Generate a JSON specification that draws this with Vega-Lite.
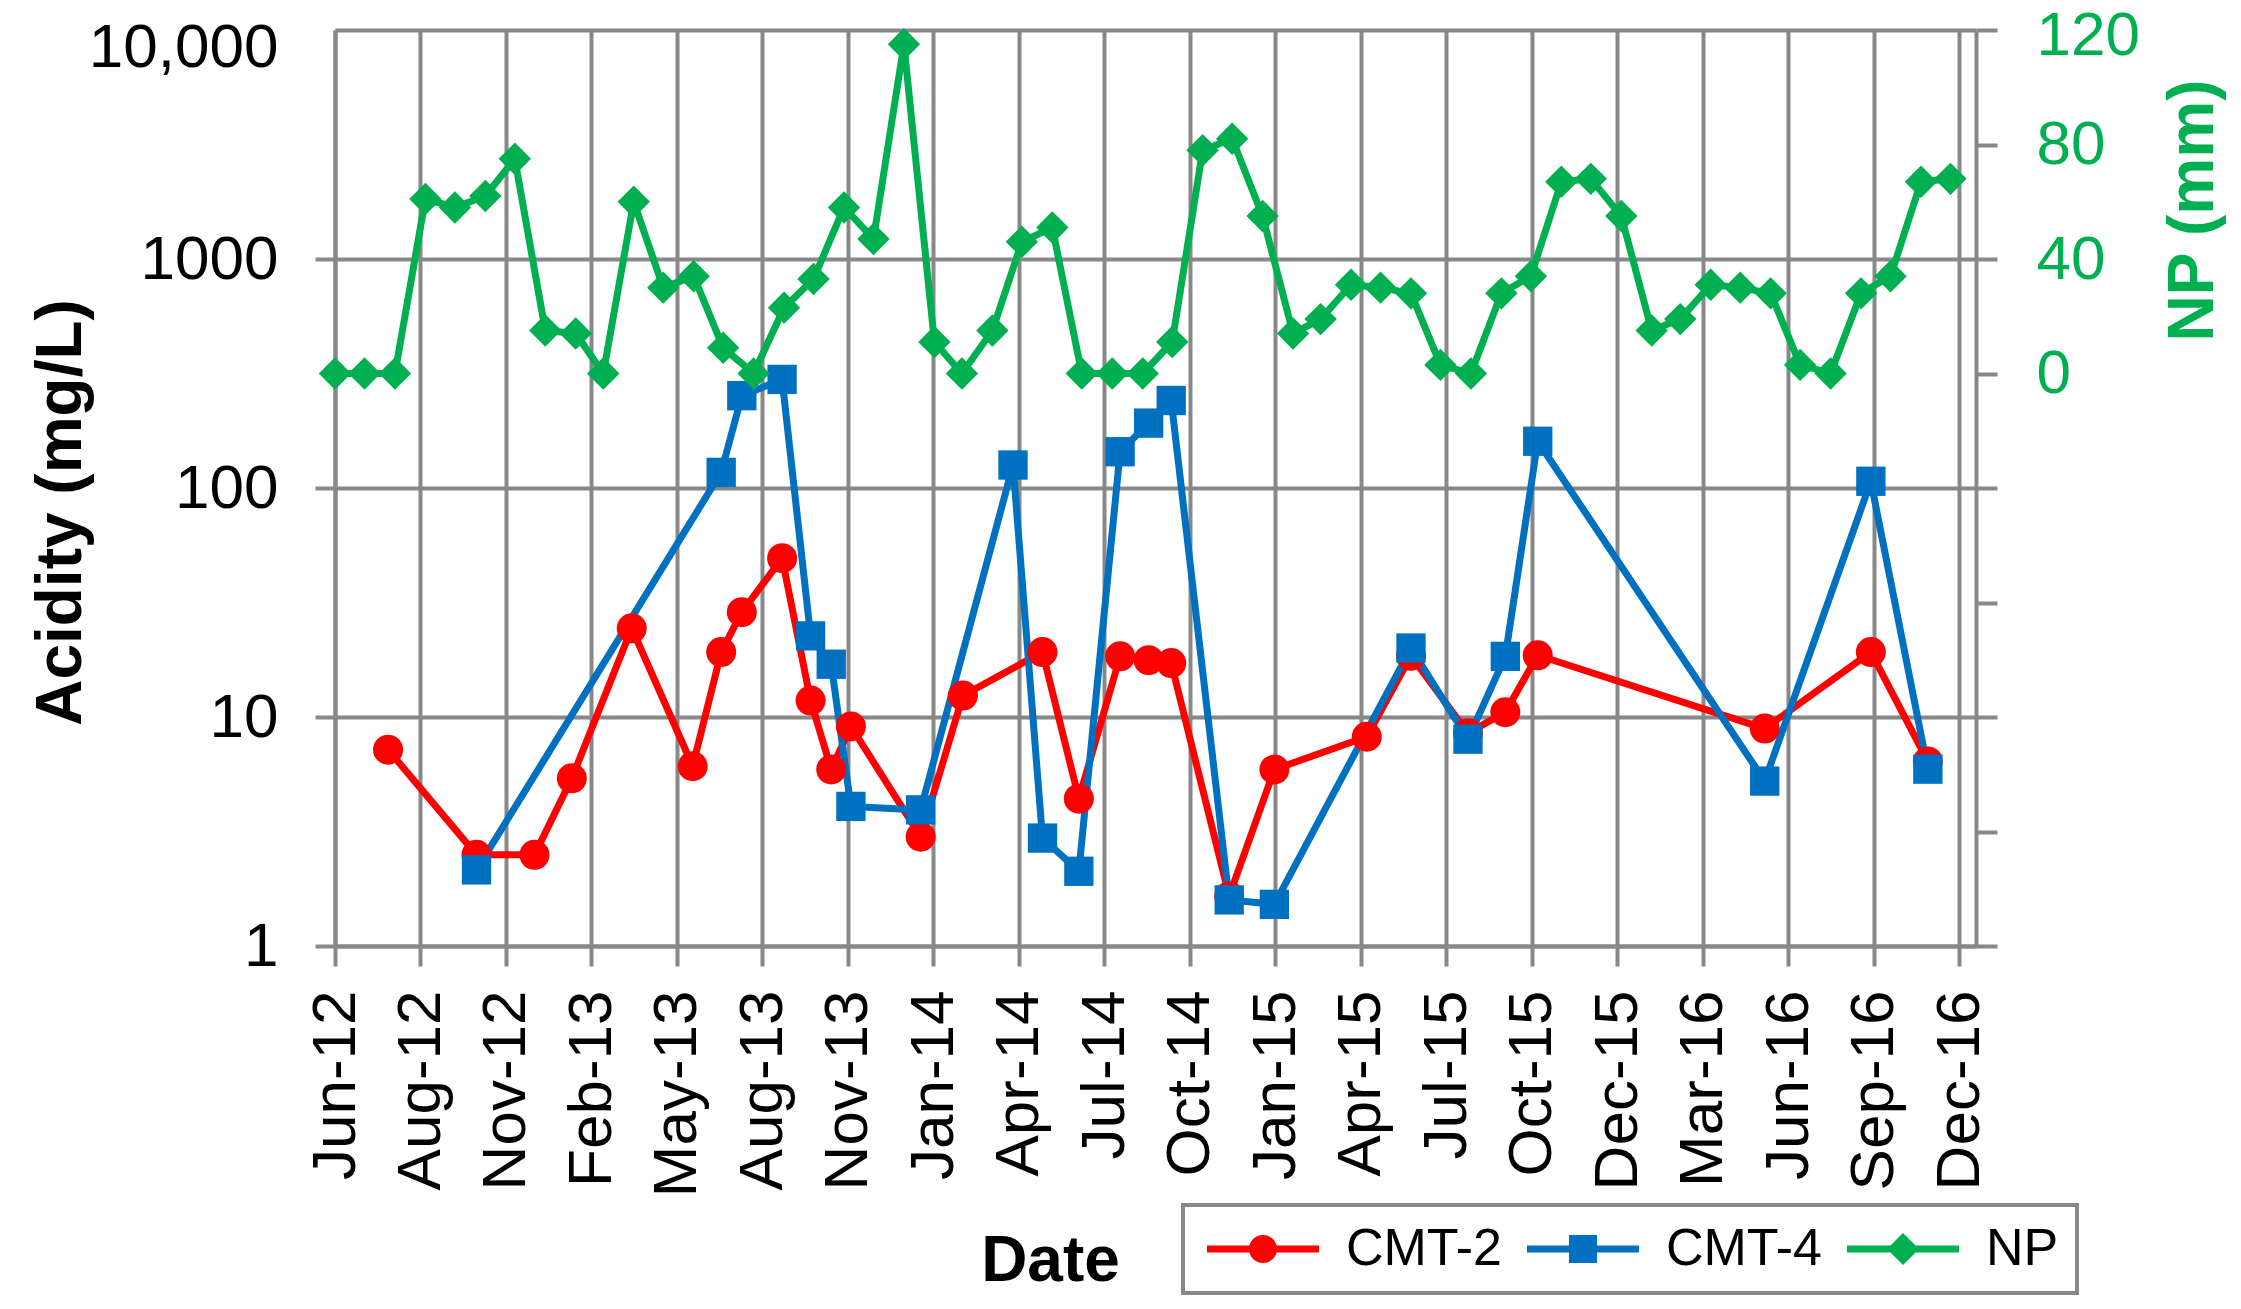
{
  "$schema": "https://vega.github.io/schema/vega-lite/v6.json",
  "width": 1641,
  "height": 916,
  "autosize": {"type": "none"},
  "padding": {"left": 335, "top": 30, "right": 265, "bottom": 363},
  "background": "white",
  "config": {
    "font": "Liberation Sans",
    "view": {"stroke": null},
    "axis": {
      "domainColor": "#888888",
      "domainWidth": 4,
      "gridColor": "#888888",
      "gridWidth": 4,
      "tickColor": "#888888",
      "tickWidth": 4,
      "tickSize": 20,
      "labelFont": "Liberation Sans",
      "labelFontSize": 62,
      "labelColor": "black",
      "labelLimit": 0,
      "labelOverlap": false,
      "titleFont": "Liberation Sans",
      "titleFontSize": 64,
      "titleFontWeight": "bold",
      "titleColor": "black"
    }
  },
  "datasets": {
    "acid": [
      {"date": "2012-07-25", "series": "CMT-2", "value": 7.2},
      {"date": "2012-10-23", "series": "CMT-2", "value": 2.5},
      {"date": "2012-12-21", "series": "CMT-2", "value": 2.5},
      {"date": "2013-01-28", "series": "CMT-2", "value": 5.4},
      {"date": "2013-03-30", "series": "CMT-2", "value": 24.4},
      {"date": "2013-05-31", "series": "CMT-2", "value": 6.1},
      {"date": "2013-06-29", "series": "CMT-2", "value": 19.2},
      {"date": "2013-07-20", "series": "CMT-2", "value": 28.7},
      {"date": "2013-08-30", "series": "CMT-2", "value": 49.4},
      {"date": "2013-09-28", "series": "CMT-2", "value": 11.8},
      {"date": "2013-10-19", "series": "CMT-2", "value": 5.9},
      {"date": "2013-11-08", "series": "CMT-2", "value": 9.1},
      {"date": "2014-01-18", "series": "CMT-2", "value": 3.0},
      {"date": "2014-03-02", "series": "CMT-2", "value": 12.4},
      {"date": "2014-05-22", "series": "CMT-2", "value": 19.2},
      {"date": "2014-06-28", "series": "CMT-2", "value": 4.4},
      {"date": "2014-08-09", "series": "CMT-2", "value": 18.4},
      {"date": "2014-09-07", "series": "CMT-2", "value": 17.7},
      {"date": "2014-09-30", "series": "CMT-2", "value": 17.2},
      {"date": "2014-11-28", "series": "CMT-2", "value": 1.65},
      {"date": "2015-01-13", "series": "CMT-2", "value": 5.9},
      {"date": "2015-04-17", "series": "CMT-2", "value": 8.2},
      {"date": "2015-06-01", "series": "CMT-2", "value": 18.5},
      {"date": "2015-07-29", "series": "CMT-2", "value": 8.5},
      {"date": "2015-09-05", "series": "CMT-2", "value": 10.5},
      {"date": "2015-10-08", "series": "CMT-2", "value": 18.6},
      {"date": "2016-05-26", "series": "CMT-2", "value": 8.9},
      {"date": "2016-09-11", "series": "CMT-2", "value": 19.2},
      {"date": "2016-11-08", "series": "CMT-2", "value": 6.4},
      {"date": "2012-10-23", "series": "CMT-4", "value": 2.15},
      {"date": "2013-06-29", "series": "CMT-4", "value": 117},
      {"date": "2013-07-20", "series": "CMT-4", "value": 253},
      {"date": "2013-08-30", "series": "CMT-4", "value": 298},
      {"date": "2013-09-28", "series": "CMT-4", "value": 22.6},
      {"date": "2013-10-19", "series": "CMT-4", "value": 17},
      {"date": "2013-11-08", "series": "CMT-4", "value": 4.07},
      {"date": "2014-01-18", "series": "CMT-4", "value": 3.93},
      {"date": "2014-04-22", "series": "CMT-4", "value": 126},
      {"date": "2014-05-22", "series": "CMT-4", "value": 2.96},
      {"date": "2014-06-28", "series": "CMT-4", "value": 2.12},
      {"date": "2014-08-09", "series": "CMT-4", "value": 144},
      {"date": "2014-09-07", "series": "CMT-4", "value": 192},
      {"date": "2014-09-30", "series": "CMT-4", "value": 241},
      {"date": "2014-11-28", "series": "CMT-4", "value": 1.59},
      {"date": "2015-01-13", "series": "CMT-4", "value": 1.52},
      {"date": "2015-06-01", "series": "CMT-4", "value": 20},
      {"date": "2015-07-29", "series": "CMT-4", "value": 8.0},
      {"date": "2015-09-05", "series": "CMT-4", "value": 18.4},
      {"date": "2015-10-08", "series": "CMT-4", "value": 160},
      {"date": "2016-05-26", "series": "CMT-4", "value": 5.25},
      {"date": "2016-09-11", "series": "CMT-4", "value": 107},
      {"date": "2016-11-08", "series": "CMT-4", "value": 5.92}
    ],
    "np": [
      {"date": "2012-06-01", "series": "NP", "np": 0},
      {"date": "2012-07-01", "series": "NP", "np": 0},
      {"date": "2012-08-01", "series": "NP", "np": 0},
      {"date": "2012-09-01", "series": "NP", "np": 61},
      {"date": "2012-10-01", "series": "NP", "np": 58},
      {"date": "2012-11-01", "series": "NP", "np": 62},
      {"date": "2012-12-01", "series": "NP", "np": 75},
      {"date": "2013-01-01", "series": "NP", "np": 15},
      {"date": "2013-02-01", "series": "NP", "np": 14},
      {"date": "2013-03-01", "series": "NP", "np": 0},
      {"date": "2013-04-01", "series": "NP", "np": 60},
      {"date": "2013-05-01", "series": "NP", "np": 30},
      {"date": "2013-06-01", "series": "NP", "np": 34},
      {"date": "2013-07-01", "series": "NP", "np": 9},
      {"date": "2013-08-01", "series": "NP", "np": 0},
      {"date": "2013-09-01", "series": "NP", "np": 23},
      {"date": "2013-10-01", "series": "NP", "np": 33},
      {"date": "2013-11-01", "series": "NP", "np": 58},
      {"date": "2013-12-01", "series": "NP", "np": 47},
      {"date": "2014-01-01", "series": "NP", "np": 115},
      {"date": "2014-02-01", "series": "NP", "np": 11},
      {"date": "2014-03-01", "series": "NP", "np": 0},
      {"date": "2014-04-01", "series": "NP", "np": 15},
      {"date": "2014-05-01", "series": "NP", "np": 46},
      {"date": "2014-06-01", "series": "NP", "np": 51},
      {"date": "2014-07-01", "series": "NP", "np": 0},
      {"date": "2014-08-01", "series": "NP", "np": 0},
      {"date": "2014-09-01", "series": "NP", "np": 0},
      {"date": "2014-10-01", "series": "NP", "np": 11},
      {"date": "2014-11-01", "series": "NP", "np": 78},
      {"date": "2014-12-01", "series": "NP", "np": 82},
      {"date": "2015-01-01", "series": "NP", "np": 55},
      {"date": "2015-02-01", "series": "NP", "np": 14},
      {"date": "2015-03-01", "series": "NP", "np": 19},
      {"date": "2015-04-01", "series": "NP", "np": 31},
      {"date": "2015-05-01", "series": "NP", "np": 30},
      {"date": "2015-06-01", "series": "NP", "np": 28},
      {"date": "2015-07-01", "series": "NP", "np": 3},
      {"date": "2015-08-01", "series": "NP", "np": 0},
      {"date": "2015-09-01", "series": "NP", "np": 28},
      {"date": "2015-10-01", "series": "NP", "np": 34},
      {"date": "2015-11-01", "series": "NP", "np": 67},
      {"date": "2015-12-01", "series": "NP", "np": 68},
      {"date": "2016-01-01", "series": "NP", "np": 55},
      {"date": "2016-02-01", "series": "NP", "np": 15},
      {"date": "2016-03-01", "series": "NP", "np": 19},
      {"date": "2016-04-01", "series": "NP", "np": 31},
      {"date": "2016-05-01", "series": "NP", "np": 30},
      {"date": "2016-06-01", "series": "NP", "np": 28},
      {"date": "2016-07-01", "series": "NP", "np": 3},
      {"date": "2016-08-01", "series": "NP", "np": 0},
      {"date": "2016-09-01", "series": "NP", "np": 28},
      {"date": "2016-10-01", "series": "NP", "np": 34},
      {"date": "2016-11-01", "series": "NP", "np": 67},
      {"date": "2016-12-01", "series": "NP", "np": 68}
    ]
  },
  "encoding": {
    "x": {
      "field": "date",
      "type": "temporal",
      "scale": {
        "type": "utc",
        "domain": [
          {"year": 2012, "month": 6, "date": 1, "utc": true},
          {"year": 2016, "month": 12, "date": 27, "utc": true}
        ]
      },
      "axis": {
        "title": "Date",
        "format": "%b-%y",
        "labelAngle": 270,
        "labelAlign": "right",
        "labelBaseline": "middle",
        "labelPadding": 24,
        "grid": true,
        "titleX": 715,
        "titleY": 334,
        "titleAlign": "center",
        "titleBaseline": "alphabetic",
        "values": [
          {"year": 2012, "month": 6, "date": 1, "utc": true},
          {"year": 2012, "month": 8, "date": 27, "utc": true},
          {"year": 2012, "month": 11, "date": 22, "utc": true},
          {"year": 2013, "month": 2, "date": 17, "utc": true},
          {"year": 2013, "month": 5, "date": 15, "utc": true},
          {"year": 2013, "month": 8, "date": 10, "utc": true},
          {"year": 2013, "month": 11, "date": 5, "utc": true},
          {"year": 2014, "month": 1, "date": 31, "utc": true},
          {"year": 2014, "month": 4, "date": 28, "utc": true},
          {"year": 2014, "month": 7, "date": 24, "utc": true},
          {"year": 2014, "month": 10, "date": 19, "utc": true},
          {"year": 2015, "month": 1, "date": 14, "utc": true},
          {"year": 2015, "month": 4, "date": 11, "utc": true},
          {"year": 2015, "month": 7, "date": 7, "utc": true},
          {"year": 2015, "month": 10, "date": 2, "utc": true},
          {"year": 2015, "month": 12, "date": 28, "utc": true},
          {"year": 2016, "month": 3, "date": 24, "utc": true},
          {"year": 2016, "month": 6, "date": 19, "utc": true},
          {"year": 2016, "month": 9, "date": 14, "utc": true},
          {"year": 2016, "month": 12, "date": 10, "utc": true}
        ]
      }
    },
    "color": {
      "field": "series",
      "type": "nominal",
      "scale": {
        "domain": ["CMT-2", "CMT-4", "NP"],
        "range": ["#FF0000", "#0070C0", "#00B050"]
      },
      "legend": {
        "title": null,
        "orient": "none",
        "legendX": 848,
        "legendY": 1175,
        "direction": "horizontal",
        "columns": 3,
        "symbolSize": 1600,
        "labelFont": "Liberation Sans",
        "labelFontSize": 52,
        "labelColor": "black",
        "labelOffset": 93,
        "columnPadding": 19,
        "padding": 18,
        "encode": {
          "symbols": {
            "update": {
              "shape": {"signal": "datum.value === 'CMT-2' ? 'M-1,-0.175H4.6V0.175H-1Z M1.1,0A0.7,0.7 0 1,1 2.5,0A0.7,0.7 0 1,1 1.1,0Z' : datum.value === 'CMT-4' ? 'M-1,-0.175H4.6V0.175H-1Z M1.1,-0.7H2.5V0.7H1.1Z' : 'M-1,-0.175H4.6V0.175H-1Z M1,0L1.8,-0.8L2.6,0L1.8,0.8Z'"},
              "fill": {"scale": "color", "field": "value"},
              "strokeWidth": {"value": 0},
              "opacity": {"value": 1}
            }
          },
          "legend": {
            "update": {
              "stroke": {"value": "#888888"},
              "strokeWidth": {"value": 4}
            }
          }
        }
      }
    }
  },
  "layer": [
    {
      "data": {"name": "acid"},
      "encoding": {
        "y": {
          "field": "value",
          "type": "quantitative",
          "scale": {"type": "log", "domain": [1, 10000]},
          "axis": {
            "title": "Acidity (mg/L)",
            "values": [1, 10, 100, 1000, 10000],
            "format": "d",
            "labelExpr": "datum.value == 10000 ? '10,000' : datum.label",
            "labelPadding": 37,
            "labelBaseline": "middle",
            "labelOffset": {"condition": {"test": "datum.value == 10000", "value": 17}, "value": 0},
            "tickOpacity": {"condition": {"test": "datum.value == 10000", "value": 0}, "value": 1},
            "grid": true,
            "titleAngle": 270,
            "titleX": -255,
            "titleY": 482,
            "titleAlign": "center",
            "titleBaseline": "alphabetic"
          }
        }
      },
      "layer": [
        {
          "mark": {"type": "line", "strokeWidth": 7, "strokeJoin": "round", "strokeCap": "round"}
        },
        {
          "transform": [{"filter": "datum.series === 'CMT-2'"}],
          "mark": {"type": "point", "filled": true, "size": 900, "opacity": 1, "shape": "circle"}
        },
        {
          "transform": [{"filter": "datum.series === 'CMT-4'"}],
          "mark": {"type": "point", "filled": true, "size": 860, "opacity": 1, "shape": "square"}
        }
      ]
    },
    {
      "data": {"name": "np"},
      "encoding": {
        "y": {
          "field": "np",
          "type": "quantitative",
          "scale": {"domain": [-200, 120], "nice": false, "zero": false},
          "axis": {
            "orient": "right",
            "title": "NP (mm)",
            "titleColor": "#00B050",
            "labelColor": "#00B050",
            "values": [-200, -160, -120, -80, -40, 0, 40, 80, 120],
            "labelExpr": "datum.value >= 0 ? datum.label : ''",
            "labelOffset": {"condition": {"test": "datum.value == 120", "value": 5}, "value": 0},
            "tickSize": 21,
            "labelPadding": 39,
            "labelBaseline": "middle",
            "grid": false,
            "titleAngle": 270,
            "titleX": 236,
            "titleY": 180,
            "titleAlign": "center",
            "titleBaseline": "alphabetic"
          }
        }
      },
      "layer": [
        {
          "mark": {"type": "line", "strokeWidth": 7, "strokeJoin": "round", "strokeCap": "round"}
        },
        {
          "mark": {"type": "point", "filled": true, "size": 1050, "opacity": 1, "shape": "diamond"}
        }
      ]
    }
  ],
  "resolve": {"scale": {"y": "independent"}, "axis": {"y": "independent"}}
}
